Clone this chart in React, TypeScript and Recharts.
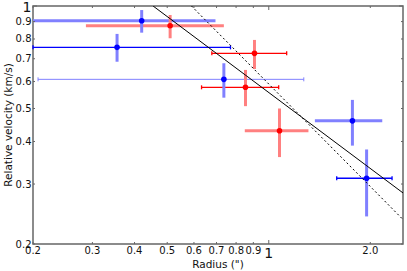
import React from "react";
import {
  ComposedChart,
  Scatter,
  ErrorBar,
  XAxis,
  YAxis,
  ReferenceArea,
} from "recharts";

// tick values + labels
const xTicks = [0.2, 0.3, 0.4, 0.5, 0.6, 0.7, 0.8, 0.9, 1, 2];
const xTickLabels = ["0.2", "0.3", "0.4", "0.5", "0.6", "0.7", "0.8", "0.9", "1", "2.0"];
const yTicks = [0.2, 0.3, 0.4, 0.5, 0.6, 0.7, 0.8, 0.9, 1];
const yTickLabels = ["0.2", "0.3", "0.4", "0.5", "0.6", "0.7", "0.8", "0.9", "1"];

// blue sample
const blueX = [0.42, 0.355, 0.736, 1.77, 1.95];
const blueY = [0.905, 0.756, 0.609, 0.46, 0.312];
const blueXLow = [0.2, 0.2, 0.207, 1.37, 1.59];
const blueXHigh = [0.695, 0.77, 1.27, 2.17, 2.32];
const blueYLow = [0.835, 0.686, 0.538, 0.389, 0.241];
const blueYHigh = [0.973, 0.828, 0.679, 0.53, 0.379];
const blueXBarKind = ["wide", "thin", "faint", "wide", "thin"];

// red sample
const redX = [0.51, 0.907, 0.853, 1.076];
const redY = [0.875, 0.726, 0.577, 0.43];
const redXLow = [0.287, 0.678, 0.632, 0.849];
const redXHigh = [0.736, 1.13, 1.07, 1.311];
const redYLow = [0.804, 0.653, 0.508, 0.36];
const redYHigh = [0.941, 0.795, 0.649, 0.5];
const redXBarKind = ["wide", "thin", "thin", "wide"];

// fitted power laws (end points)
const solidFitX = [0.454, 2.5];
const solidFitY = [1, 0.2825];
const dashedFitX = [0.59, 2.5];
const dashedFitY = [1, 0.236];

const WIDTH = 407;
const HEIGHT = 271;
const MARGIN = { top: 6, right: 4, bottom: 0, left: 0 };
const PLOT_TOP = MARGIN.top;
const PLOT_RIGHT = WIDTH - MARGIN.right;
const FRAME = "#666666";
const INK = "#111111";
const FONT = "DejaVu Sans, sans-serif";

const COLORS: Record<string, { dark: string; light: string }> = {
  blue: { dark: "#0000ff", light: "#8080ff" },
  red: { dark: "#ff0000", light: "#ff8080" },
};

const KIND_STYLE: Record<string, { tone: "dark" | "light"; strokeWidth: number; cap: number }> = {
  wide: { tone: "light", strokeWidth: 3, cap: 0 },
  thin: { tone: "dark", strokeWidth: 1.3, cap: 2 },
  faint: { tone: "light", strokeWidth: 1, cap: 2 },
};

const buildRows = (
  xs: number[],
  ys: number[],
  xLo: number[],
  xHi: number[],
  yLo: number[],
  yHi: number[],
  kinds: string[]
) =>
  xs.map((x, i) => ({
    x,
    y: ys[i],
    xErr: [x - xLo[i], xHi[i] - x],
    yErr: [ys[i] - yLo[i], yHi[i] - ys[i]],
    kind: kinds[i],
  }));

const blueRows = buildRows(blueX, blueY, blueXLow, blueXHigh, blueYLow, blueYHigh, blueXBarKind);
const redRows = buildRows(redX, redY, redXLow, redXHigh, redYLow, redYHigh, redXBarKind);

const solidFit = solidFitX.map((x, i) => ({ x, y: solidFitY[i] }));
const dashedFit = dashedFitX.map((x, i) => ({ x, y: dashedFitY[i] }));

const NoShape = () => <g />;

const XTick = (props: any) => {
  const { x, y, payload } = props;
  const idx = xTicks.indexOf(payload.value);
  const major = payload.value === 1;
  const len = major ? 4 : 2;
  return (
    <g>
      <line x1={x} x2={x} y1={y} y2={y - len} stroke={FRAME} />
      <line x1={x} x2={x} y1={PLOT_TOP} y2={PLOT_TOP + len} stroke={FRAME} />
      <text
        x={x}
        y={major ? y + 14 : y + 10}
        textAnchor="middle"
        fontSize={major ? 14 : 10}
        fontFamily={FONT}
        fill={INK}
      >
        {xTickLabels[idx]}
      </text>
    </g>
  );
};

const YTick = (props: any) => {
  const { x, y, payload } = props;
  const idx = yTicks.indexOf(payload.value);
  const major = payload.value === 1;
  const len = major ? 4 : 2;
  return (
    <g>
      <line x1={x} x2={x + len} y1={y} y2={y} stroke={FRAME} />
      <line x1={PLOT_RIGHT} x2={PLOT_RIGHT - len} y1={y} y2={y} stroke={FRAME} />
      <text
        x={x - 1.5}
        y={major ? y + 6 : y + 3.5}
        textAnchor="end"
        fontSize={major ? 14 : 10}
        fontFamily={FONT}
        fill={INK}
      >
        {yTickLabels[idx]}
      </text>
    </g>
  );
};

const renderXBars = (rows: typeof blueRows, color: string) =>
  Object.keys(KIND_STYLE).map((kind) => {
    const subset = rows.filter((r) => r.kind === kind);
    if (!subset.length) return null;
    const st = KIND_STYLE[kind];
    return (
      <Scatter
        key={`${color}-x-${kind}`}
        data={subset}
        shape={NoShape}
        isAnimationActive={false}
      >
        <ErrorBar
          dataKey="xErr"
          direction="x"
          stroke={COLORS[color][st.tone]}
          strokeWidth={st.strokeWidth}
          width={st.cap}
          isAnimationActive={false}
        />
      </Scatter>
    );
  });

const renderPoints = (rows: typeof blueRows, color: string) => (
  <Scatter
    key={`${color}-pts`}
    data={rows}
    fill={COLORS[color].dark}
    shape={(p: any) => <circle cx={p.cx} cy={p.cy} r={2.8} fill={COLORS[color].dark} />}
    isAnimationActive={false}
  >
    <ErrorBar
      dataKey="yErr"
      direction="y"
      stroke={COLORS[color].light}
      strokeWidth={3}
      width={0}
      isAnimationActive={false}
    />
  </Scatter>
);

export default function App() {
  return (
    <div style={{ position: "absolute", left: 0, top: 0, background: "#fff" }}>
      <ComposedChart
        width={WIDTH}
        height={HEIGHT}
        margin={MARGIN}
        style={{ fontFamily: FONT }}
      >
        <XAxis
          type="number"
          dataKey="x"
          scale="log"
          domain={[0.2, 2.5]}
          allowDataOverflow
          ticks={xTicks}
          interval={0}
          tick={<XTick />}
          tickLine={false}
          axisLine={false}
          tickSize={0}
          tickMargin={0}
          height={27}
          label={{
            value: 'Radius (")',
            position: "insideBottom",
            offset: 3,
            fontSize: 10.5,
            fill: INK,
          }}
        />
        <YAxis
          type="number"
          dataKey="y"
          scale="log"
          domain={[0.2, 1]}
          allowDataOverflow
          ticks={yTicks}
          interval={0}
          tick={<YTick />}
          tickLine={false}
          axisLine={false}
          tickSize={0}
          tickMargin={0}
          width={33}
          label={{
            value: "Relative velocity (km/s)",
            angle: -90,
            position: "insideLeft",
            offset: 8,
            fontSize: 10.5,
            fill: INK,
            style: { textAnchor: "middle" },
          }}
        />
        <ReferenceArea
          x1={0.2}
          x2={2.5}
          y1={0.2}
          y2={1}
          fill="none"
          stroke={FRAME}
          strokeWidth={1.5}
          ifOverflow="visible"
        />
        {renderXBars(blueRows, "blue")}
        {renderXBars(redRows, "red")}
        {renderPoints(blueRows, "blue")}
        {renderPoints(redRows, "red")}
        <Scatter
          data={solidFit}
          shape={NoShape}
          line={{ stroke: "#000", strokeWidth: 1 }}
          isAnimationActive={false}
        />
        <Scatter
          data={dashedFit}
          shape={NoShape}
          line={{ stroke: "#000", strokeWidth: 1, strokeDasharray: "2 2.5" }}
          isAnimationActive={false}
        />
      </ComposedChart>
    </div>
  );
}
